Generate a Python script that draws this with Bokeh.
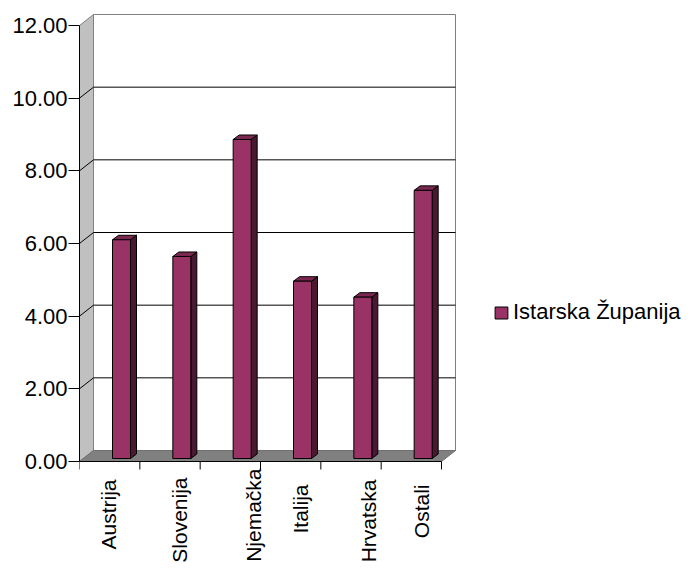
import numpy as np
from bokeh.plotting import figure
from bokeh.models import Range1d, FixedTicker, NumeralTickFormatter, Legend, LegendItem, ColumnDataSource
from bokeh.embed import file_html
from bokeh.resources import INLINE
from bokeh.core.properties import value

# ---------------- data ----------------
categories = ["Austrija", "Slovenija", "Njemačka", "Italija", "Hrvatska", "Ostali"]
values = [6.02, 5.56, 8.78, 4.88, 4.44, 7.38]
series_name = "Istarska Županija"
y_ticks = [0, 2, 4, 6, 8, 10, 12]

# ---------------- layout / style ----------------
W, H = 684, 564
LEFT = 79                      # front value axis position (px)
FRONT_BOTTOM, FRONT_TOP = 461, 25
FRONT_RIGHT = 441
YMAX = max(y_ticks)
NCAT = len(categories)
PX_Y = (FRONT_BOTTOM - FRONT_TOP) / YMAX
PX_X = (FRONT_RIGHT - LEFT) / NCAT
DX, DY = 14 / PX_X, 11 / PX_Y           # depth of the 3D box
BAR_OFF, BAR_W = 33 / PX_X, 18 / PX_X   # bar front face inside category
SX, SY = 6 / PX_X, 4.5 / PX_Y           # bar depth
BASE = 3 / PX_Y
FONT = "Liberation Sans"
BAR_FRONT, BAR_SIDE, BAR_TOP = "#993366", "#4a1830", "#7a2850"

p = figure(width=W, height=H,
           x_range=Range1d(0, (W - LEFT) / PX_X),
           y_range=Range1d(-(H - FRONT_BOTTOM) / PX_Y, YMAX + FRONT_TOP / PX_Y),
           output_backend="svg", toolbar_location=None, title=None,
           x_axis_location=None,
           min_border_left=LEFT, min_border_right=0, min_border_top=0, min_border_bottom=0)
p.outline_line_color = None
p.grid.grid_line_color = None
p.background_fill_color = "white"
p.border_fill_color = "white"

# y axis
ax = p.yaxis[0]
ax.ticker = FixedTicker(ticks=y_ticks)
ax.formatter = NumeralTickFormatter(format="0.00")
ax.bounds = (0, YMAX)
ax.axis_line_color = "black"
ax.major_tick_line_color = "black"
ax.major_tick_out = 11
ax.major_tick_in = 0
ax.minor_tick_out = 0
ax.minor_tick_in = 0
ax.major_label_standoff = 1
ax.major_label_text_font = FONT
ax.major_label_text_font_size = "22px"
ax.major_label_text_color = "black"

# walls and floor
p.patch([0, DX, DX, 0], [0, DY, YMAX + DY, YMAX], fill_color="#c0c0c0", line_color="#808080")
p.quad(left=DX, right=NCAT + DX, bottom=DY, top=YMAX + DY, fill_color="white", line_color="#808080")
for v in y_ticks[1:-1]:
    p.line([0, DX, NCAT + DX], [v, v + DY, v + DY], line_color="black", line_width=1)
p.patch([0, NCAT, NCAT + DX, DX], [0, 0, DY, DY], fill_color="#808080", line_color="#707070")

# category axis line and ticks
p.line([0, NCAT], [0, 0], line_color="black", line_width=1)
p.segment(x0=list(range(NCAT + 1)), y0=[0] * (NCAT + 1), x1=list(range(NCAT + 1)),
          y1=[-8 / PX_Y] * (NCAT + 1), line_color="black")

# bars
x0s = [i + BAR_OFF for i in range(NCAT)]
x1s = [x + BAR_W for x in x0s]
side_xs = [[a, a + SX, a + SX, a] for a in x1s]
side_ys = [[BASE, BASE + SY, BASE + v + SY, BASE + v] for v in values]
top_xs = [[a, b, b + SX, a + SX] for a, b in zip(x0s, x1s)]
top_ys = [[BASE + v, BASE + v, BASE + v + SY, BASE + v + SY] for v in values]
p.patches(side_xs, side_ys, fill_color=BAR_SIDE, line_color="black", line_width=1)
p.patches(top_xs, top_ys, fill_color=BAR_TOP, line_color="black", line_width=1)
front = p.quad(left=x0s, right=x1s, bottom=[BASE] * NCAT, top=[BASE + v for v in values],
               fill_color=BAR_FRONT, line_color="black", line_width=1)

# category labels (rotated)
label_dx = [-1, 9, 23, 10, 17, 10]
label_dy = [18, 16, 7, 23, 18, 23]
src = ColumnDataSource(dict(x=[i + 0.5 for i in range(NCAT)], y=[0] * NCAT, text=categories,
                            xo=label_dx, yo=label_dy))
p.text(x="x", y="y", text="text", source=src, angle=np.pi / 2, x_offset="xo", y_offset="yo",
       text_align="right", text_baseline="middle", text_font=value(FONT),
       text_font_size="21px", text_color="black")

# legend
legend = Legend(items=[LegendItem(label=series_name, renderers=[front])],
                location=(414, 239), padding=0, margin=0, border_line_color=None,
                background_fill_alpha=0, glyph_width=16, glyph_height=15, label_standoff=4,
                label_text_font=FONT, label_text_font_size="22px", label_text_color="black")
p.add_layout(legend)

open("out.html", "w").write(file_html(p, INLINE))
